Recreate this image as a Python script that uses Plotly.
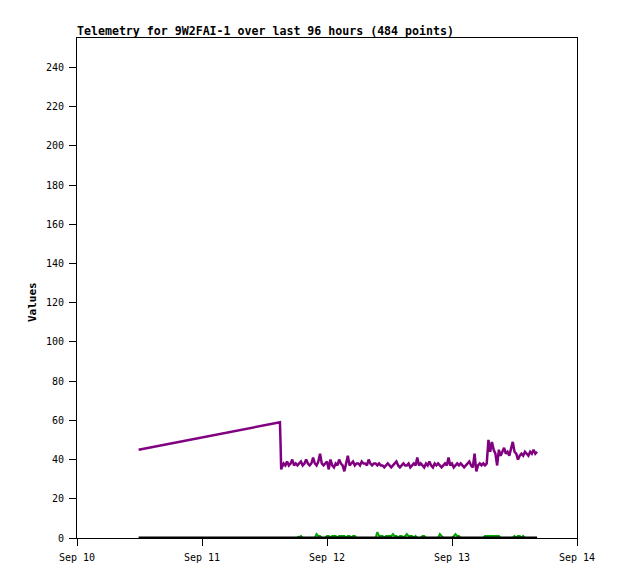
import pandas as pd
import plotly.graph_objects as go

# ---- data ----
title_text = "Telemetry for 9W2FAI-1 over last 96 hours (484 points)"
x_tick_vals = ["2024-09-10", "2024-09-11", "2024-09-12", "2024-09-13", "2024-09-14"]
y_tick_vals = [0, 20, 40, 60, 80, 100, 120, 140, 160, 180, 200, 220, 240]

# purple series: early sparse part
purple_early_times = ["2024-09-10 11:50", "2024-09-11 14:58", "2024-09-11 15:05", "2024-09-11 15:12"]
purple_early_values = [45, 59, 48, 35]

# purple series: dense part (sampled every 20 minutes)
purple_dense_start = "2024-09-11 15:20"
purple_dense_values = [
    36, 38, 37, 39, 37, 38, 40, 37, 38, 37,
    38, 39, 37, 38, 40, 38, 37, 38, 41, 38, 37, 39, 43, 38, 37, 38, 39,
    35, 40, 37, 36, 38, 37, 40, 38, 37, 34, 38, 42,
    37, 38, 39, 37, 38, 38, 37, 39, 38, 38, 37, 40, 38, 37, 38, 38, 37,
    38, 37, 37, 36, 37, 38, 37, 36, 37, 38, 39, 37, 36, 37, 38, 37, 37, 38, 36, 37, 38, 37, 41,
    37, 38, 37, 36, 38, 37, 39, 37, 36, 38, 37, 38, 37, 36, 37, 38, 37, 41, 37, 38,
    36, 37, 38, 37, 38, 37, 36, 37, 38, 39, 37, 36, 43, 34, 37, 38, 37, 38, 37, 38,
    50, 44, 49, 45, 43, 37, 45, 42, 44, 46, 43, 44, 42, 45, 49, 44, 43, 40,
    42, 43, 42, 44, 43, 42, 44, 43, 45, 43, 44,
]

# green series (sampled every 20 minutes)
green_start = "2024-09-11 18:20"
green_values = [
    1, 0, 1, 0,
    0, 0, 0, 0, 0, 0, 0,
    2, 1, 1, 0,
    0, 0,
    1, 1, 0, 1, 1, 1, 0, 1, 1, 1, 1, 0, 1, 1, 0, 1, 1,
    0, 0, 0, 0, 0, 0, 0, 0, 0, 0, 0, 0,
    3, 1,
    1, 1, 0, 1, 1, 1, 1, 2, 1, 1, 0, 1, 1, 0, 1, 2, 1, 1, 1, 0, 1,
    0, 0, 0,
    1, 1, 0,
    0, 0, 0, 0, 0, 0, 0,
    2, 1,
    0, 0, 0, 0, 0, 0,
    1, 2, 1, 1, 0,
    0, 0, 0, 0, 0, 0, 0, 0, 0, 0, 0, 0, 0,
    1, 1, 1, 1, 1, 1, 1, 1, 1,
    0, 0, 0, 0, 0, 0, 0, 0,
    1, 0, 1, 1, 0, 1,
    0, 0, 0, 0, 0,
]

# black series
black_times = ["2024-09-10 11:50", "2024-09-11 15:00", "2024-09-13 16:20"]
black_values = [0, 0, 0]

# ---- build ----
purple_dense_times = pd.date_range(purple_dense_start, periods=len(purple_dense_values), freq="20min")
purple_times = list(pd.to_datetime(purple_early_times)) + list(purple_dense_times)
purple_values = purple_early_values + purple_dense_values
green_times = pd.date_range(green_start, periods=len(green_values), freq="20min")

FONT = "DejaVu Sans Mono"
W, H = 610, 571  # page body has an 8px margin

fig = go.Figure()
fig.add_trace(go.Scatter(x=green_times, y=green_values, mode="lines",
                         line=dict(color="#00a800", width=2), showlegend=False))
fig.add_trace(go.Scatter(x=pd.to_datetime(black_times), y=black_values, mode="lines",
                         line=dict(color="#000000", width=3), showlegend=False))
fig.add_trace(go.Scatter(x=purple_times, y=purple_values, mode="lines",
                         line=dict(color="#800080", width=2.5), showlegend=False))

fig.update_layout(
    width=W, height=H,
    margin=dict(l=69, r=41, t=30, b=41),
    paper_bgcolor="white", plot_bgcolor="white",
    font=dict(family=FONT, size=10, color="black"),
    title=dict(text="<b>" + title_text + "</b>", x=69 / W, xanchor="left",
               y=1 - 23 / H, yanchor="middle", yref="container",
               font=dict(family=FONT, size=11.6, color="black")),
    xaxis=dict(range=["2024-09-10", "2024-09-14"], tickvals=x_tick_vals,
               tickformat="%b %d", showgrid=False, zeroline=False,
               showline=True, linecolor="black", linewidth=1, mirror=True,
               ticks="outside", ticklen=7, tickcolor="black",
               ticklabelstandoff=3,
               tickfont=dict(family=FONT, size=10)),
    yaxis=dict(range=[0, 255], tickvals=y_tick_vals, showgrid=False, zeroline=False,
               showline=True, linecolor="black", linewidth=1, mirror=True,
               ticks="outside", ticklen=7, tickcolor="black",
               ticklabelstandoff=3,
               tickfont=dict(family=FONT, size=10)),
    annotations=[dict(text="<b>Values</b>", xref="paper", yref="paper",
                      x=(32 - 77) / 500, y=(538 - 302) / 500, textangle=-90,
                      showarrow=False, xanchor="center", yanchor="middle",
                      font=dict(family=FONT, size=11, color="black"))],
)

fig.write_html("out.html")
